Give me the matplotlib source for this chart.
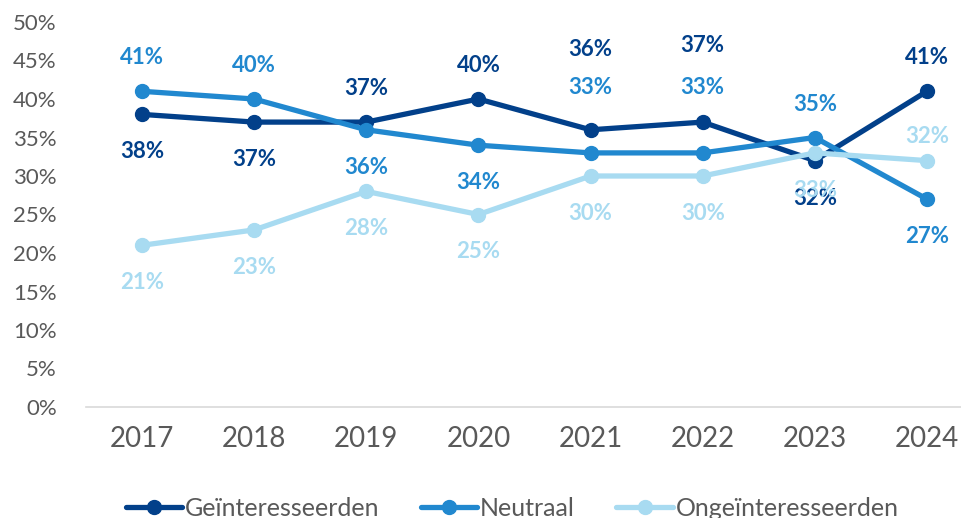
import matplotlib.pyplot as plt

# data
years = ["2017", "2018", "2019", "2020", "2021", "2022", "2023", "2024"]
geinteresseerden = [38, 37, 37, 40, 36, 37, 32, 41]
neutraal = [41, 40, 36, 34, 33, 33, 35, 27]
ongeinteresseerden = [21, 23, 28, 25, 30, 30, 33, 32]

# label offsets in points (positive = above the point)
off_gei = [-27, -27, 24, 24, 58, 55, -27, 24]
off_neu = [24, 24, -27, -27, 47, 47, 24, -27]
off_ong = [-27, -27, -27, -27, -27, -27, -27, 17]

series = [
    ("Geïnteresseerden", geinteresseerden, off_gei, "#02408A"),
    ("Neutraal", neutraal, off_neu, "#2188CF"),
    ("Ongeïnteresseerden", ongeinteresseerden, off_ong, "#A8DBF1"),
]

plt.rcParams['font.family'] = ['Lato', 'DejaVu Sans']

fig = plt.figure(figsize=(9.61, 5.18), dpi=100)
ax = fig.add_axes([86 / 961, 111 / 518, 897 / 961, 385 / 518])

x = list(range(len(years)))
for i, (name, vals, offs, col) in enumerate(series):
    ax.plot(x, vals, color=col, lw=3.8, marker="o", ms=10, label=name,
            zorder=3 + i, solid_capstyle="round")
    for xi, v, o in zip(x, vals, offs):
        ax.annotate(f"{v}%", (xi, v), xytext=(0, o), textcoords="offset points",
                    ha="center", va="center", fontsize=16, fontweight="bold",
                    color=col, zorder=10)

ax.set_xlim(-0.5, 7.5)
ax.set_ylim(0, 50)
ax.set_yticks(range(0, 51, 5))
ax.set_yticklabels([f"{t}%" for t in range(0, 51, 5)])
ax.set_xticks(x)
ax.set_xticklabels(years)
ax.tick_params(axis="y", length=0, labelsize=16, labelcolor="#595959", pad=21)
ax.tick_params(axis="x", length=0, labelsize=20, labelcolor="#595959", pad=14)
for s in ["top", "right", "left"]:
    ax.spines[s].set_visible(False)
ax.spines["bottom"].set_color("#D9D9D9")
ax.spines["bottom"].set_linewidth(1.2)

fig.legend(loc="center left", bbox_to_anchor=(116 / 961, 1 - 508 / 518), ncol=3,
           frameon=False, fontsize=18, labelcolor="#595959", handlelength=2.25,
           handletextpad=0.12, columnspacing=1.65, borderaxespad=0)

plt.savefig("out.png", dpi=100)
